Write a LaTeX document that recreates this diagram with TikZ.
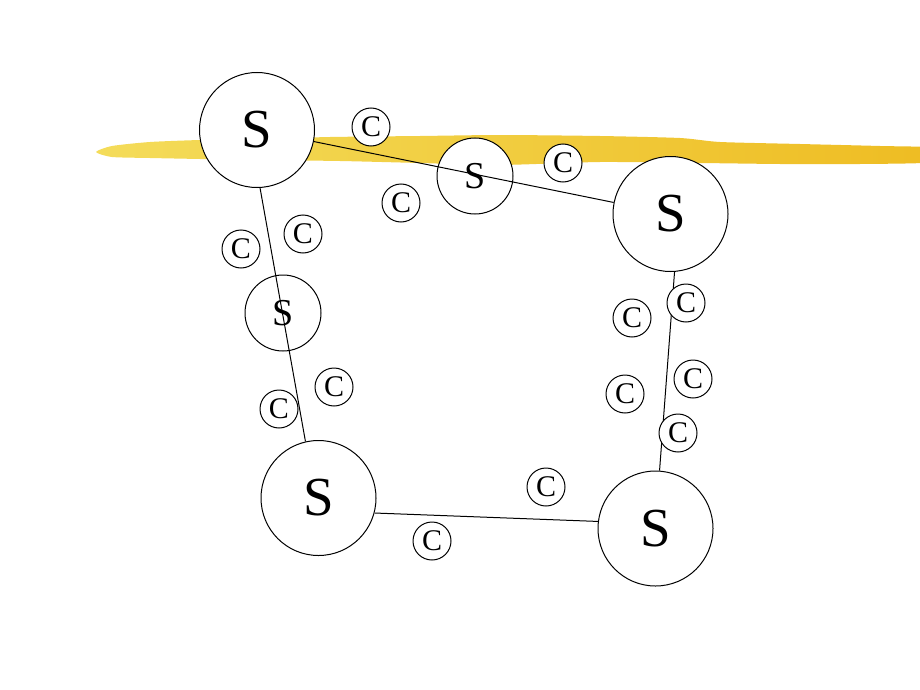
\documentclass[tikz,border=0pt]{standalone}
\usepackage{fontspec}
\setmainfont{Liberation Serif}
\definecolor{hlLight}{HTML}{F4DC5A}
\definecolor{hlGold}{HTML}{EEBC22}

\begin{document}
\begin{tikzpicture}[x=1pt,y=-1pt]
\tikzstyle{every node}=[font=\fontsize{30}{30}\selectfont]
\tikzstyle{server}=[circle,draw,fill=white,line width=1pt,minimum size=115pt,inner sep=0pt,font=\fontsize{55}{55}\selectfont]
\tikzstyle{subserver}=[circle,draw,fill=white,line width=1pt,minimum size=76pt,inner sep=0pt,font=\fontsize{38}{38}\selectfont]
\tikzstyle{client}=[circle,draw,fill=white,line width=1pt,minimum size=38pt,inner sep=0pt]
\tikzstyle{link}=[line width=1pt]

\useasboundingbox (0,0) rectangle (920,690);

% highlighter stroke
\shade[left color=hlLight,right color=hlGold] plot[smooth cycle,tension=0.4] coordinates {
	(96,152) (112,146) (150,142) (200,140) (260,139) (330,137) (420,136) (500,135)
	(600,136) (680,138) (720,142) (800,144) (880,146) (935,148)
	(935,162) (860,164) (780,164) (700,163) (600,162) (500,165) (420,163)
	(340,161) (260,160) (200,159) (150,158) (112,157)};

% servers
\node[server] (srvNW) at (257,130) {S};
\node[server] (srvNE) at (670.5,214) {S};
\node[server] (srvSW) at (318.5,498) {S};
\node[server] (srvSE) at (655.5,528.5) {S};
\node[subserver] (subN) at (475,176) {S};
\node[subserver] (subW) at (283,313) {S};

% links
\draw[link] (srvNW) -- (srvNE);
\draw[link] (srvNW.273) -- (srvSW.103);
\draw[link] (srvNE.274) -- (srvSE.86);
\draw[link] (srvSW.345) -- (srvSE.173);

% clients
\node[client] (cl1) at (371,127) {C};
\node[client] (cl2) at (563,163) {C};
\node[client] (cl3) at (401,203) {C};
\node[client] (cl4) at (241,249) {C};
\node[client] (cl5) at (303,234) {C};
\node[client] (cl6) at (334,387) {C};
\node[client] (cl7) at (279,409) {C};
\node[client] (cl8) at (686,303) {C};
\node[client] (cl9) at (632,318) {C};
\node[client] (cl10) at (693,379) {C};
\node[client] (cl11) at (625,394) {C};
\node[client] (cl12) at (678,433) {C};
\node[client] (cl13) at (546,487) {C};
\node[client] (cl14) at (432,541) {C};
\end{tikzpicture}
\end{document}
